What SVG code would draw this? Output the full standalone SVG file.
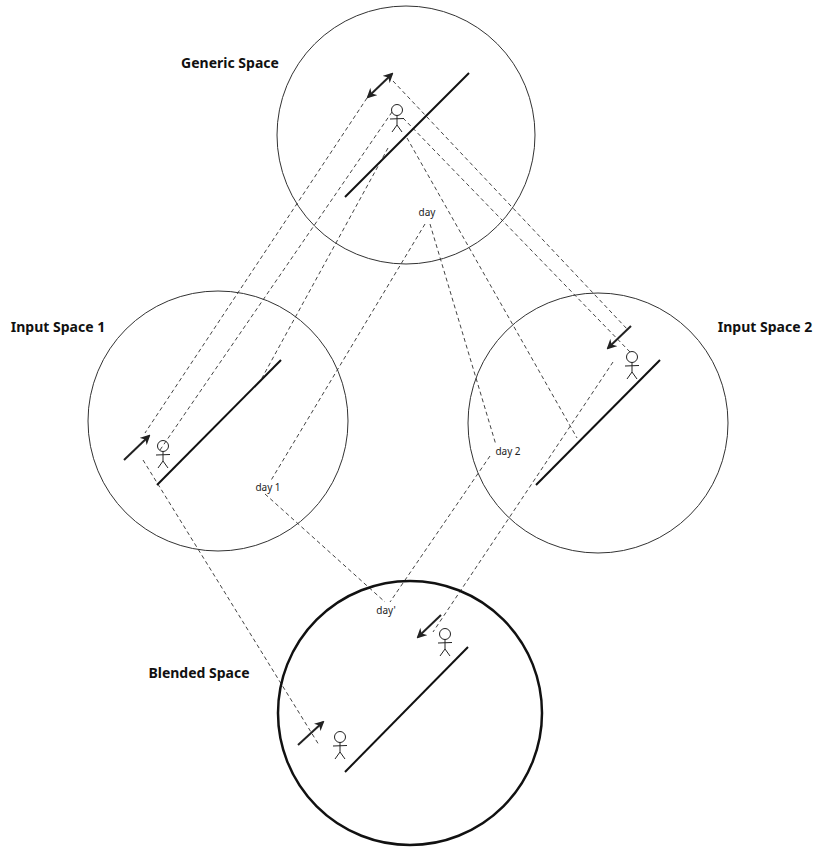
<svg xmlns="http://www.w3.org/2000/svg" width="825" height="856" viewBox="0 0 825 856">
<defs>
<marker id="ah" viewBox="0 0 10 10" refX="8" refY="5" markerWidth="5" markerHeight="5" orient="auto-start-reverse"><path d="M0,0 L10,5 L0,10 L3,5 z" fill="#222"/></marker>
<g id="fig" fill="none" stroke="#222" stroke-width="1"><circle cx="0" cy="0" r="5.5"/><line x1="0" y1="5.5" x2="0" y2="15"/><line x1="-7" y1="9" x2="7" y2="8.5"/><line x1="0" y1="15" x2="-5" y2="22"/><line x1="0" y1="15" x2="5" y2="22"/></g>
</defs>
<style>
.sp{fill:none;stroke:#333;stroke-width:1}
.bl{fill:none;stroke:#111;stroke-width:2.5}
.ln{stroke:#111;stroke-width:2}
.ar{stroke:#222;stroke-width:2;marker-end:url(#ah)}
.d{fill:none;stroke:#444;stroke-width:1;stroke-dasharray:4,3}
.t{font-family:"Noto Sans",sans-serif;font-size:14px;font-weight:bold;fill:#111;text-anchor:middle}
.s{font-family:"Noto Sans",sans-serif;font-size:10px;fill:#222;text-anchor:middle}
</style>
<rect width="825" height="856" fill="#fff"/>
<g id="connectors">
<line class="d" x1="367" y1="98" x2="145" y2="433"/>
<line class="d" x1="392" y1="112" x2="160" y2="450"/>
<line class="d" x1="388" y1="148" x2="262" y2="378"/>
<line class="d" x1="393" y1="81" x2="628" y2="330"/>
<line class="d" x1="403" y1="118" x2="630" y2="352"/>
<line class="d" x1="407" y1="138" x2="577" y2="438"/>
<line class="d" x1="425" y1="224" x2="270" y2="482"/>
<line class="d" x1="430" y1="224" x2="496" y2="445"/>
<line class="d" x1="265" y1="494" x2="385" y2="602"/>
<line class="d" x1="490" y1="456" x2="390" y2="602"/>
<line class="d" x1="143" y1="460" x2="319" y2="745"/>
<line class="d" x1="613" y1="362" x2="433" y2="632"/>
</g>
<g id="generic"><circle class="sp" cx="406" cy="135" r="129"/><line class="ln" x1="345" y1="197" x2="469" y2="73"/><line class="ar" x1="368" y1="97" x2="392" y2="74" style="marker-start:url(#ah)"/><use href="#fig" x="397" y="110"/><text class="t" x="230" y="68">Generic Space</text><text class="s" x="427" y="216">day</text></g>
<g id="input1"><circle class="sp" cx="218" cy="421" r="130"/><line class="ln" x1="157" y1="485" x2="281" y2="360"/><line class="ar" x1="124" y1="460" x2="149" y2="436"/><use href="#fig" x="163" y="446"/><text class="t" x="58" y="332">Input Space 1</text><text class="s" x="268" y="491">day 1</text></g>
<g id="input2"><circle class="sp" cx="598" cy="423" r="130"/><line class="ln" x1="536" y1="485" x2="660" y2="360"/><line class="ar" x1="631" y1="326" x2="608" y2="348"/><use href="#fig" x="632" y="357"/><text class="t" x="765" y="332">Input Space 2</text><text class="s" x="508" y="455">day 2</text></g>
<g id="blended"><circle class="bl" cx="410" cy="713" r="132"/><line class="ln" x1="345" y1="772" x2="468" y2="647"/><line class="ar" x1="298" y1="745" x2="323" y2="722"/><use href="#fig" x="340" y="737"/><line class="ar" x1="441" y1="615" x2="418" y2="637"/><use href="#fig" x="445" y="634"/><text class="t" x="199" y="678">Blended Space</text><text class="s" x="386" y="614">day'</text></g>
</svg>
